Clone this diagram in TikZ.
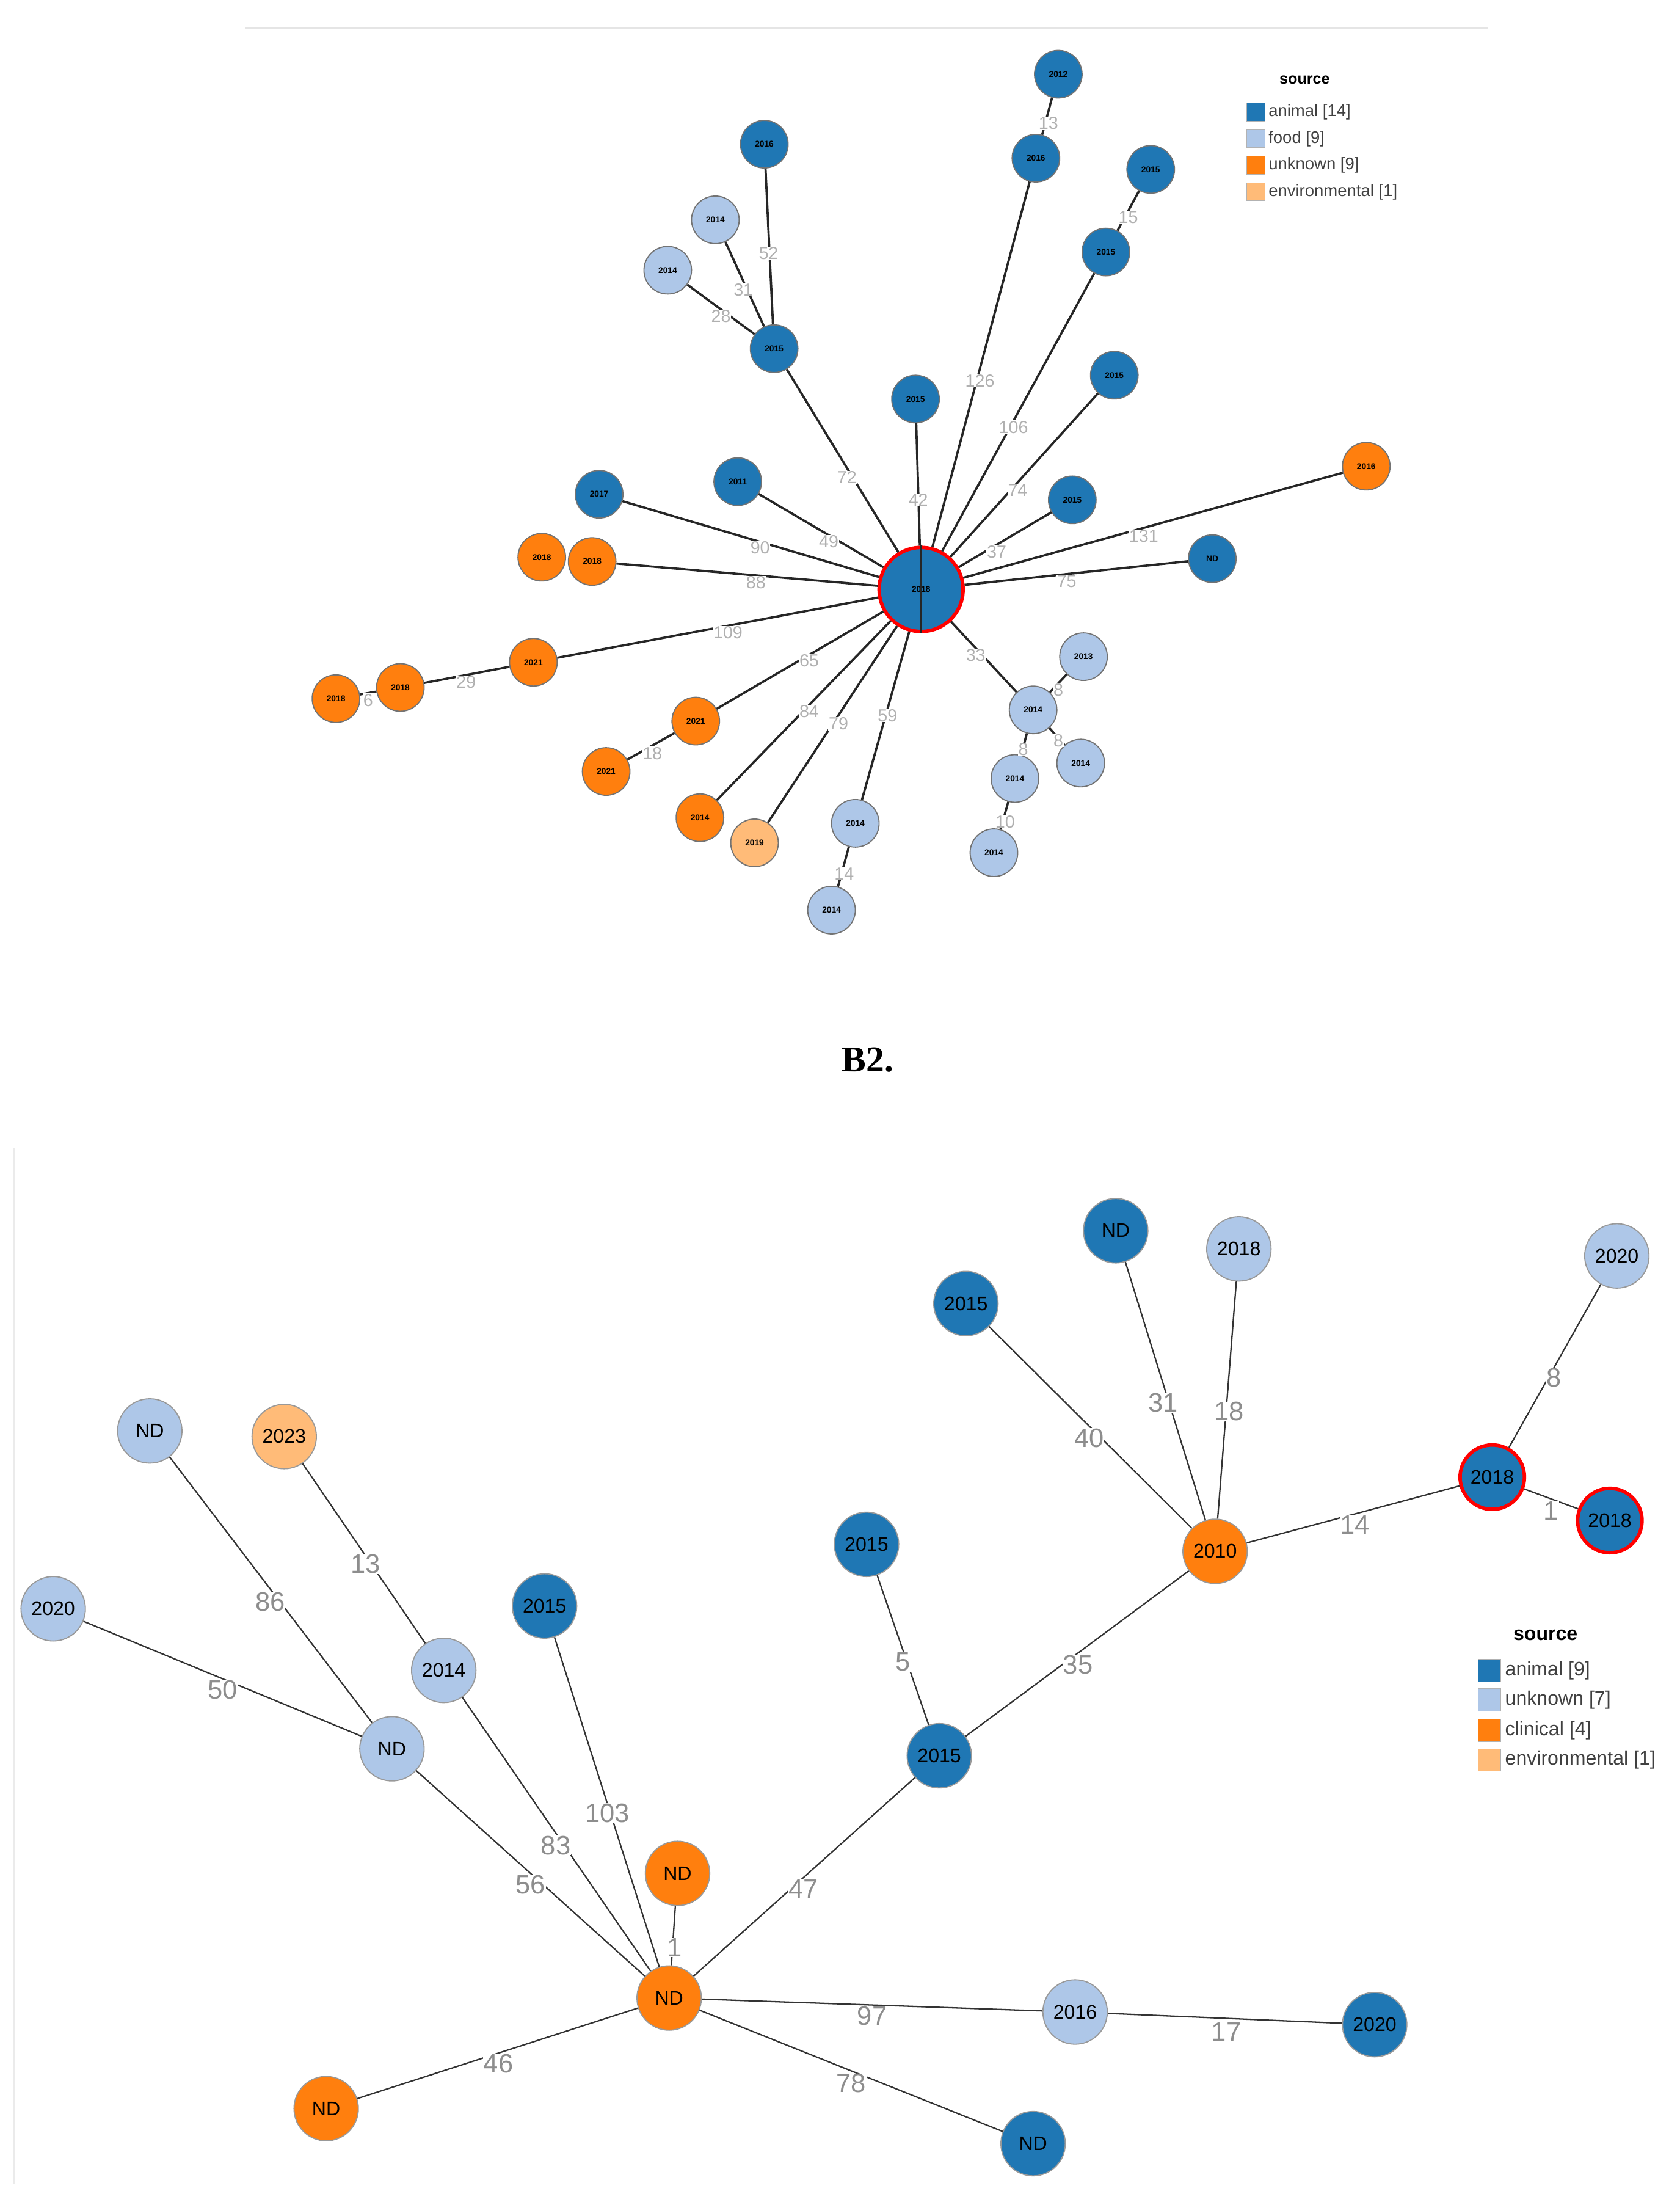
\documentclass[tikz,border=0pt]{standalone}
\usepackage{fontspec}
\setmainfont{Liberation Sans}
\newfontfamily\serifb{Liberation Serif}
\definecolor{cA}{HTML}{1F77B4}
\definecolor{cF}{HTML}{AEC7E8}
\definecolor{cU}{HTML}{FF7F0E}
\definecolor{cE}{HTML}{FFBB78}
\definecolor{lab}{HTML}{B0B0B0}
\begin{document}
\begin{tikzpicture}[x=1pt,y=-1pt,
  sn/.style={circle,draw=black!55,line width=0.8pt,minimum size=34pt,inner sep=0pt,font=\fontsize{6}{6}\selectfont\bfseries},
  bn/.style={circle,draw=black!40,line width=0.8pt,minimum size=46pt,inner sep=0pt,font=\fontsize{14}{14}\selectfont},
  an/.style={fill=cA},fn/.style={fill=cF},un/.style={fill=cU},en/.style={fill=cE},
  te/.style={line width=1.6pt,black!85},
  be/.style={line width=1pt,black!80},
  tl/.style={text=lab,fill=white,font=\fontsize{12.5}{12.5}\selectfont,inner sep=0.3pt},
  bl/.style={text=lab!80!black,fill=white,font=\fontsize{19}{19}\selectfont,inner sep=0.3pt},
  lg/.style={draw=black!30,minimum size=13pt,inner sep=0pt}]
\useasboundingbox (0,0) rectangle (1200,1567);
\draw[black!10,line width=1pt] (175,20) -- (1063,20);
\draw[black!8,line width=1pt] (10,820) -- (10,1560);
% ---------- top graph ----------
\begin{scope}[every node/.append style={sn}]
\node[an,minimum size=60pt,draw=red,line width=2.5pt] (c) at (658,421) {2018};
\node[an] (t2012) at (756,53) {2012};
\node[an] (t2016a) at (740,113) {2016};
\node[an] (t2016b) at (546,103) {2016};
\node[fn] (t2014a) at (511,157) {2014};
\node[fn] (t2014b) at (477,193) {2014};
\node[an] (th) at (553,249) {2015};
\node[an] (t2015a) at (822,121) {2015};
\node[an] (t2015b) at (790,180) {2015};
\node[an] (t2015c) at (654,285) {2015};
\node[an] (t2015d) at (796,268) {2015};
\node[an] (t2015e) at (766,357) {2015};
\node[un] (t2016o) at (976,333) {2016};
\node[an] (tND) at (866,399) {ND};
\node[an] (t2017) at (428,353) {2017};
\node[an] (t2011) at (527,344) {2011};
\node[un] (t2018a) at (387,398) {2018};
\node[un] (t2018b) at (423,401) {2018};
\node[un] (t2021a) at (381,473) {2021};
\node[un] (t2018c) at (286,491) {2018};
\node[un] (t2018d) at (240,499) {2018};
\node[un] (t2021b) at (497,515) {2021};
\node[un] (t2021c) at (433,551) {2021};
\node[un] (t2014o) at (500,584) {2014};
\node[en] (t2019) at (539,602) {2019};
\node[fn] (t2014c) at (611,588) {2014};
\node[fn] (t2014d) at (594,650) {2014};
\node[fn] (t2014e) at (738,507) {2014};
\node[fn] (t2013) at (774,469) {2013};
\node[fn] (t2014f) at (772,545) {2014};
\node[fn] (t2014g) at (725,556) {2014};
\node[fn] (t2014h) at (710,609) {2014};
\end{scope}
\foreach \a/\b in {t2012/t2016a,t2016b/th,t2014a/th,t2014b/th,t2015a/t2015b,t2018c/t2021a,t2018d/t2018c,t2021c/t2021b,t2014d/t2014c,t2013/t2014e,t2014f/t2014e,t2014g/t2014e,t2014h/t2014g}
  \draw[te] (\a) -- (\b);
\foreach \a in {t2016a,th,t2015b,t2015c,t2015d,t2015e,t2016o,tND,t2017,t2011,t2018b,t2021a,t2021b,t2014o,t2019,t2014c,t2014e}
  \draw[te] (\a) -- (c);
\draw[black!85,line width=0.8pt] (c.north) -- (c.south);
\foreach \p/\t in {{749,88}/13,{549,181}/52,{531,207}/31,{515,226}/28,{806,155}/15,{605,341}/72,{656,357}/42,{700,272}/126,{724,305}/106,{727,350}/74,{712,394}/37,{817,383}/131,{762,415}/75,{543,391}/90,{592,387}/49,{540,416}/88,{520,452}/109,{333,487}/29,{263,500}/6,{578,472}/65,{466,538}/18,{578,508}/84,{599,517}/79,{634,511}/59,{603,624}/14,{697,468}/33,{756,493}/8,{756,529}/8,{731,535}/8,{718,587}/10}
  \node[tl] at (\p) {\t};
% top legend
\node[font=\fontsize{11}{11}\selectfont\bfseries] (tsrc) at (932,57) {source};
\foreach \y/\c/\t in {80/cA/animal [14],99/cF/food [9],118/cU/unknown [9],137/cE/environmental [1]}{
  \node[lg,fill=\c] (lgt\y) at (897,\y) {};
  \node[anchor=west,font=\fontsize{12}{12}\selectfont,text=black!75,inner sep=1pt] at (905,\y) {\t};}
% title
\node[font=\serifb\fontsize{26}{26}\selectfont\bfseries] (title) at (620,757) {B2.};
% ---------- bottom graph ----------
\begin{scope}[every node/.append style={bn}]
\node[un] (bc) at (478,1427) {ND};
\node[an] (b2015a) at (671,1254) {2015};
\node[an] (b2015b) at (619,1103) {2015};
\node[un] (b2010) at (868,1108) {2010};
\node[an,draw=red,line width=2.5pt] (b2018a) at (1066,1055) {2018};
\node[an,draw=red,line width=2.5pt] (b2018b) at (1150,1086) {2018};
\node[fn] (b2020a) at (1155,897) {2020};
\node[an] (b2015c) at (690,931) {2015};
\node[an] (bNDa) at (797,879) {ND};
\node[fn] (b2018c) at (885,892) {2018};
\node[fn] (bNDb) at (280,1249) {ND};
\node[fn] (b2020b) at (38,1149) {2020};
\node[fn] (bNDc) at (107,1022) {ND};
\node[fn] (b2014) at (317,1193) {2014};
\node[en] (b2023) at (203,1026) {2023};
\node[an] (b2015d) at (389,1147) {2015};
\node[un] (bNDd) at (484,1338) {ND};
\node[un] (bNDe) at (233,1506) {ND};
\node[fn] (b2016) at (768,1437) {2016};
\node[an] (b2020c) at (982,1446) {2020};
\node[an] (bNDf) at (738,1531) {ND};
\end{scope}
\foreach \a/\b in {bc/b2015a,b2015a/b2015b,b2015a/b2010,b2010/b2018a,b2018a/b2018b,b2018a/b2020a,b2010/b2015c,b2010/bNDa,b2010/b2018c,bc/bNDb,bNDb/b2020b,bNDb/bNDc,bc/b2014,b2014/b2023,bc/b2015d,bc/bNDd,bc/bNDe,bc/b2016,b2016/b2020c,bc/bNDf}
  \draw[be] (\a) -- (\b);
\foreach \p/\t in {{574,1349}/47,{645,1187}/5,{770,1189}/35,{968,1089}/14,{1108,1079}/1,{1110,984}/8,{778,1027}/40,{831,1002}/31,{878,1008}/18,{379,1346}/56,{159,1207}/50,{193,1144}/86,{397,1318}/83,{261,1117}/13,{434,1295}/103,{482,1391}/1,{356,1474}/46,{623,1440}/97,{876,1451}/17,{608,1488}/78}
  \node[bl] at (\p) {\t};
% bottom legend
\node[font=\fontsize{14}{14}\selectfont\bfseries] (bsrc) at (1104,1168) {source};
\foreach \y/\c/\t in {1193/cA/animal [9],1214/cF/unknown [7],1236/cU/clinical [4],1257/cE/environmental [1]}{
  \node[lg,minimum size=16pt,fill=\c] (lgb\y) at (1064,\y) {};
  \node[anchor=west,font=\fontsize{14}{14}\selectfont,text=black!75,inner sep=1pt] at (1074,\y) {\t};}
\end{tikzpicture}
\end{document}
